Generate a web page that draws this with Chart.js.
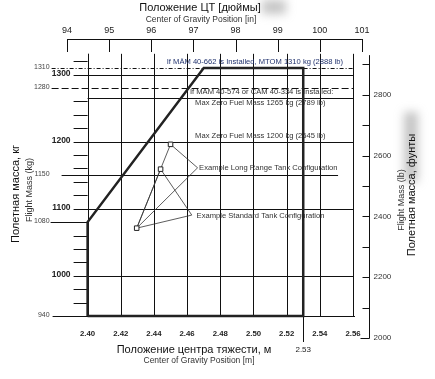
<!DOCTYPE html>
<html>
<head>
<meta charset="utf-8">
<script src="https://cdn.jsdelivr.net/npm/chart.js@4.4.0/dist/chart.umd.min.js"></script>
<style>
  body { margin: 0; background: #fff; }
  canvas { display: block; }
</style>
</head>
<body>
<canvas id="cg" width="435" height="379"></canvas>
<script>
const LB_PER_KG = 2.20462;
const M_PER_IN = 0.0254;

// flight envelope, cg [m] / mass [kg]
const envelopeCg = [2.40, 2.40, 2.47, 2.53, 2.53, 2.40];
const envelopeMass = [940, 1080, 1310, 1310, 940, 940];

// example loading points (long range top, standard middle, common bottom)
const exampleCg = [2.450, 2.444, 2.4296];
const exampleMass = [1196, 1159, 1071];

// where the leader lines meet the two example labels
const leaderCg = [2.4663, 2.4628];
const leaderMass = [1161, 1090.5];

// axis ticks
const cgTicks = [2.40, 2.42, 2.44, 2.46, 2.48, 2.50, 2.52, 2.54, 2.56];
const inchTicks = [94, 95, 96, 97, 98, 99, 100, 101];
const lbTicks = [2000, 2200, 2400, 2600, 2800];
const lbMinor = [2000, 2100, 2200, 2300, 2400, 2500, 2600, 2700, 2800, 2900];
const kgTicksBold = [1000, 1100, 1200, 1300];
const kgTicksLimit = [940, 1080, 1150, 1280, 1310];
const kgMinor = [960, 980, 1000, 1020, 1040, 1060, 1100, 1120, 1140, 1160, 1180, 1200, 1220, 1240, 1260, 1300, 1320];

// horizontal limit lines
const limitMass = [1310, 1300, 1280, 1265, 1200, 1150, 1100, 1000];

const FONT = '"Liberation Sans", Arial, sans-serif';

const pts = (xs, ys) => xs.map((v, i) => ({ x: v, y: ys[i] }));

// leader / path lines: pairs of [from, to]
const S = pts(exampleCg, exampleMass);
const A = pts(leaderCg, leaderMass);
const leaders = [
  [S[2], S[0]], [S[2], S[1]],
  [S[0], A[0]], [S[2], A[0]],
  [S[1], A[1]], [S[2], A[1]]
];

const notes = [
  { x: 2.4477, y: 1318.5, text: 'If MÄM 40-662 is Installed, MTOM 1310 kg (2888 lb)', color: '#22336e' },
  { x: 2.4617, y: 1274, text: 'If MÄM 40-574 or CÄM 40-334 is Installed:', color: '#333' },
  { x: 2.4648, y: 1257.5, text: 'Max Zero Fuel Mass 1265 kg (2789 lb)', color: '#333' },
  { x: 2.4648, y: 1208.5, text: 'Max Zero Fuel Mass 1200 kg (2645 lb)', color: '#333' },
  { x: 2.4672, y: 1160.7, text: 'Example Long Range Tank Configuration', color: '#333' },
  { x: 2.4657, y: 1090, text: 'Example Standard Tank Configuration', color: '#333' }
];

function seg(ctx, x1, y1, x2, y2) {
  ctx.beginPath();
  ctx.moveTo(x1, y1);
  ctx.lineTo(x2, y2);
  ctx.stroke();
}
const r = v => Math.round(v) + 0.5;

const frame = {
  id: 'frame',
  beforeDatasetsDraw(chart) {
    const { ctx, chartArea, scales: { x, y } } = chart;
    const px = v => x.getPixelForValue(v);
    const py = v => y.getPixelForValue(v);
    const ax = px(2.40);
    const gridTop = py(1331);
    const base = py(940);

    ctx.save();
    // grey smudges from the scan
    ctx.filter = 'blur(5px)';
    ctx.fillStyle = 'rgba(150,150,150,0.55)';
    ctx.fillRect(262, 0, 24, 14);
    ctx.fillRect(404, 112, 14, 70);
    ctx.filter = 'none';

    ctx.strokeStyle = '#111';
    ctx.lineWidth = 1;

    // vertical grid
    cgTicks.forEach(v => seg(ctx, r(px(v)), gridTop, r(px(v)), base));
    seg(ctx, r(px(2.53)), base, r(px(2.53)), base + 26);

    // horizontal limit lines
    limitMass.forEach(m => {
      const yy = r(py(m));
      let x1 = ax - 13, x2 = px(2.56);
      ctx.setLineDash([]);
      if (kgTicksLimit.includes(m)) x1 = ax - 36;
      if (m === 1150) x1 = ax - 26;
      if (m === 1265) x1 = ax;
      if (m === 1150) x2 = px(2.551);
      if (m === 1310) ctx.setLineDash([4, 2, 1, 2]);
      if (m === 1280) ctx.setLineDash([7, 3]);
      seg(ctx, x1, yy, x2, yy);
    });
    ctx.setLineDash([]);
    // 940 line
    seg(ctx, ax - 35, r(base), px(2.56) + 2, r(base));
    seg(ctx, ax - 37, r(py(1080)), ax, r(py(1080)));

    // left axis + minor ticks
    seg(ctx, r(ax), py(1331), r(ax), base);
    kgMinor.forEach(m => seg(ctx, ax - 14, r(py(m)), ax, r(py(m))));

    // top axis (inches)
    const top = chartArea.top;
    seg(ctx, px(94 * M_PER_IN), r(top), px(101 * M_PER_IN), r(top));
    inchTicks.forEach(v => seg(ctx, r(px(v * M_PER_IN)), top, r(px(v * M_PER_IN)), top + 13));

    // right axis (lb)
    const rx = r(chartArea.right);
    seg(ctx, rx, py(2930 / LB_PER_KG), rx, chartArea.bottom);
    lbMinor.forEach(v => seg(ctx, rx - 7, r(py(v / LB_PER_KG)), rx, r(py(v / LB_PER_KG))));
    seg(ctx, rx - 9, r(chartArea.bottom), rx, r(chartArea.bottom));

    // tick labels
    ctx.fillStyle = '#222';
    ctx.textBaseline = 'middle';
    ctx.textAlign = 'center';
    ctx.font = '9px ' + FONT;
    inchTicks.forEach(v => ctx.fillText(String(v), px(v * M_PER_IN), 31));
    ctx.font = 'bold 7.8px ' + FONT;
    cgTicks.forEach(v => ctx.fillText(v.toFixed(2), px(v), 334));
    ctx.font = '8px ' + FONT;
    ctx.fillText('2.53', px(2.53), 350);

    ctx.textAlign = 'right';
    ctx.font = 'bold 8.5px ' + FONT;
    kgTicksBold.forEach(v => ctx.fillText(String(v), ax - 17, py(v) - 1));
    ctx.font = '7px ' + FONT;
    ctx.fillStyle = '#444';
    kgTicksLimit.forEach(v => ctx.fillText(String(v), ax - 38, py(v) - 1));

    ctx.textAlign = 'left';
    ctx.fillStyle = '#333';
    ctx.font = '8px ' + FONT;
    lbTicks.forEach(v => ctx.fillText(String(v), rx + 4, py(v / LB_PER_KG)));

    // axis titles
    ctx.textAlign = 'center';
    ctx.fillStyle = '#111';
    ctx.font = '11px ' + FONT;
    ctx.fillText('Положение ЦТ [дюймы]', 200, 8);
    ctx.fillText('Положение центра тяжести, м', 194, 350);
    ctx.fillStyle = '#333';
    ctx.font = '8.5px ' + FONT;
    ctx.fillText('Center of Gravity Position [in]', 201, 20);
    ctx.fillText('Center of Gravity Position [m]', 199, 361);

    const vtext = (t, cx, cy, font, color) => {
      ctx.save();
      ctx.translate(cx, cy);
      ctx.rotate(-Math.PI / 2);
      ctx.font = font;
      ctx.fillStyle = color;
      ctx.fillText(t, 0, 0);
      ctx.restore();
    };
    vtext('Полетная масса, кг', 16, 194, '11px ' + FONT, '#111');
    vtext('Flight Mass (kg)', 29.5, 190, '9px ' + FONT, '#333');
    vtext('Flight Mass (lb)', 402, 200, '9px ' + FONT, '#333');
    vtext('Полетная масса, фунты', 412, 195, '11px ' + FONT, '#111');

    // notes
    ctx.textAlign = 'left';
    ctx.font = '7.6px ' + FONT;
    notes.forEach(n => {
      ctx.fillStyle = n.color;
      ctx.fillText(n.text, px(n.x), py(n.y));
    });
    ctx.restore();
  }
};

new Chart(document.getElementById('cg'), {
  type: 'scatter',
  data: {
    datasets: [
      {
        data: S,
        order: 0,
        pointStyle: 'rect',
        pointRadius: 3.2,
        backgroundColor: '#fff',
        borderColor: '#222',
        borderWidth: 1
      },
      {
        data: pts(envelopeCg, envelopeMass),
        order: 1,
        showLine: true,
        pointRadius: 0,
        borderColor: '#222',
        borderWidth: 2.5,
        borderJoinStyle: 'miter'
      },
      ...leaders.map(p => ({
        data: p,
        order: 2,
        showLine: true,
        pointRadius: 0,
        borderColor: '#333',
        borderWidth: 0.8
      }))
    ]
  },
  options: {
    responsive: false,
    devicePixelRatio: 1,
    animation: false,
    layout: { padding: { left: 67, right: 66, top: 39, bottom: 41 } },
    plugins: { legend: { display: false }, tooltip: { enabled: false } },
    scales: {
      x: { type: 'linear', min: 2.38758, max: 2.56965, display: false },
      y: { type: 'linear', min: 2000 / LB_PER_KG, max: 1353.1, display: false }
    }
  },
  plugins: [frame]
});
</script>
</body>
</html>
